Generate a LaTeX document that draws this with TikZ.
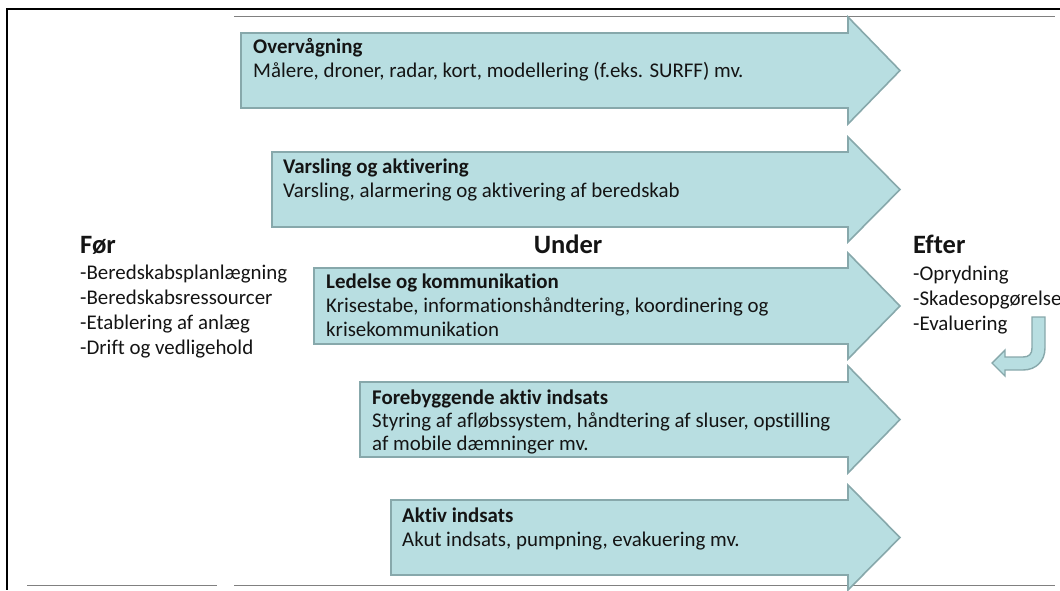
\documentclass[tikz,border=0pt]{standalone}
\usepackage{fontspec}
\setmainfont{Carlito}[Ligatures=NoCommon]
\definecolor{afill}{RGB}{184,222,225}
\definecolor{aline}{RGB}{135,168,171}
\definecolor{txt}{RGB}{20,20,20}
\definecolor{rule}{RGB}{128,128,128}
\tikzset{
  phase/.style={fill=afill,draw=aline,line width=1.6pt,line join=miter},
  ttl/.style={anchor=base west,inner sep=0,text=txt,font=\fontsize{20.9}{24}\selectfont\bfseries},
  dsc/.style={anchor=base west,inner sep=0,text=txt,font=\fontsize{20.9}{24}\selectfont},
  head/.style={anchor=base west,inner sep=0,text=txt,font=\fontsize{26.5}{30}\selectfont\bfseries},
  item/.style={anchor=base west,inner sep=0,text=txt,font=\fontsize{20.9}{24}\selectfont},
}
\begin{document}
\begin{tikzpicture}[x=1pt,y=-1pt]
\useasboundingbox (0,0) rectangle (1060,590);
% frame
\draw[black,line width=2pt] (7,9) -- (1060,9);
\draw[black,line width=2pt] (7,8) -- (7,590);
\draw[rule,line width=1pt] (234,16) -- (1055,16);
\draw[rule,line width=1pt] (27,585) -- (217,585);
\draw[rule,line width=1pt] (234,585) -- (1055,585);
% phase arrows
\draw[phase] (241,33) -- (848,33) -- (848,17) -- (900,70.5) -- (848,124) -- (848,108) -- (241,108) -- cycle;
\draw[phase] (272,152) -- (848,152) -- (848,137) -- (900,189.5) -- (848,242) -- (848,227) -- (272,227) -- cycle;
\draw[phase] (314,268) -- (848,268) -- (848,253) -- (900,306) -- (848,359) -- (848,344) -- (314,344) -- cycle;
\draw[phase] (360,382) -- (848,382) -- (848,366) -- (900,419.5) -- (848,473) -- (848,457) -- (360,457) -- cycle;
\draw[phase] (391,500) -- (848,500) -- (848,485) -- (900,537.5) -- (848,590) -- (848,575) -- (391,575) -- cycle;
% texts in arrows
\node[ttl] (t1) at (253,53) {Overvågning};
\node[dsc] (d1) at (253,77) {Målere, droner, radar, kort, modellering (f.eks. SURFF) mv.};
\node[ttl] (t2) at (283,173) {Varsling og aktivering};
\node[dsc] (d2) at (283,197) {Varsling, alarmering og aktivering af beredskab};
\node[ttl] (t3) at (326,288) {Ledelse og kommunikation};
\node[dsc] (d3a) at (326,312) {Krisestabe, informationshåndtering, koordinering og};
\node[dsc] (d3b) at (326,336) {krisekommunikation};
\node[ttl] (t4) at (372,404) {Forebyggende aktiv indsats};
\node[dsc] (d4a) at (372,427) {Styring af afløbssystem, håndtering af sluser, opstilling};
\node[dsc] (d4b) at (372,450) {af mobile dæmninger mv.};
\node[ttl] (t5) at (402,522) {Aktiv indsats};
\node[dsc] (d5) at (402,546) {Akut indsats, pumpning, evakuering mv.};
% headings
\node[head] (for) at (80,253) {Før};
\node[head,anchor=base] (under) at (568,253) {Under};
\node[head] (efter) at (913,253) {Efter};
\node[item] (f1) at (80,279) {-Beredskabsplanlægning};
\node[item] (f2) at (80,304) {-Beredskabsressourcer};
\node[item] (f3) at (80,329) {-Etablering af anlæg};
\node[item] (f4) at (80,354) {-Drift og vedligehold};
\node[item] (e1) at (913,280) {-Oprydning};
\node[item] (e2) at (913,305) {-Skadesopgørelse};
\node[item] (e3) at (913,330) {-Evaluering};
% return arrow
\draw[phase,line width=1.4pt] (1032,317) -- (1045,317) -- (1045,348)
  .. controls (1045,361) and (1036,370) .. (1023,370)
  -- (1005,370) -- (1005,376) -- (992,363) -- (1005,350) -- (1005,357) -- (1023,357)
  .. controls (1029,357) and (1032,354) .. (1032,348) -- cycle;
\end{tikzpicture}
\end{document}
